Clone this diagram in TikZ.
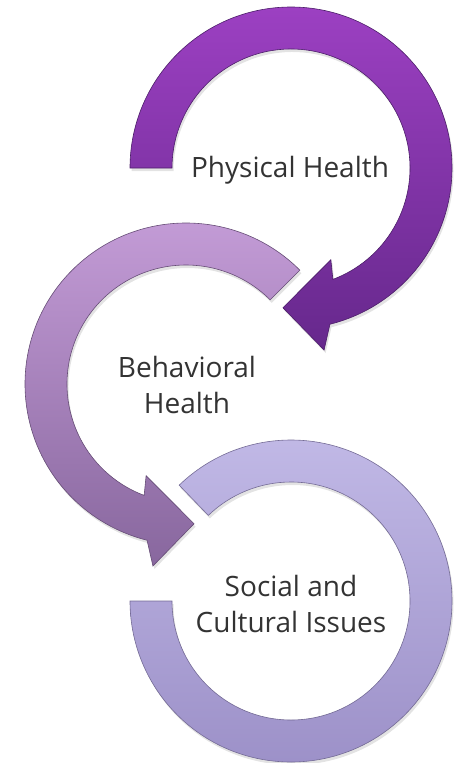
\documentclass[tikz,border=0pt]{standalone}
\usepackage{fontspec}
\setmainfont{Open Sans}
\usetikzlibrary{calc,shadows}
\definecolor{c1top}{HTML}{9C40C2}
\definecolor{c1bot}{HTML}{66288C}
\definecolor{c2top}{HTML}{C59DD8}
\definecolor{c2bot}{HTML}{88679E}
\definecolor{c3top}{HTML}{C2BAE7}
\definecolor{c3bot}{HTML}{9B8FC7}
\definecolor{txt}{HTML}{333333}
\tikzset{
  ringbase/.style={line width=0.6pt,
    drop shadow={opacity=0.22,shadow xshift=1.5pt,shadow yshift=-3pt}},
  ringA/.style={ringbase,top color=c1top,bottom color=c1bot,draw=c1bot!75!black},
  ringB/.style={ringbase,top color=c2top,bottom color=c2bot,draw=c2bot!75!black},
  ringC/.style={ringbase,top color=c3top,bottom color=c3bot,draw=c3bot!75!black},
  lbl/.style={text=txt,font=\fontsize{28}{36}\selectfont,align=center,inner sep=0pt}
}
\begin{document}
\begin{tikzpicture}[x=1pt,y=1pt]
\useasboundingbox (0,0) rectangle (464,-763);
\coordinate (C1) at (291,-168);
\coordinate (C2) at (186,-384);
\coordinate (C3) at (291,-601);

% Physical Health ring (clockwise, arrow at lower left)
\path[ringA] ($(C1)+(180:161)$) arc[start angle=180,end angle=-76,radius=161]
  -- ($(C1)+(-79.7:185)$) -- ($(C1)+(-93.3:140)$) -- ($(C1)+(-66.5:100)$)
  -- ($(C1)+(-69.4:119)$) arc[start angle=-69.4,end angle=180,radius=119] -- cycle;

% Behavioral Health ring (counter-clockwise, arrow at lower right)
\path[ringB] ($(C2)+(45:161)$) arc[start angle=45,end angle=256,radius=161]
  -- ($(C2)+(259.7:185)$) -- ($(C2)+(273.3:140)$) -- ($(C2)+(246.5:100)$)
  -- ($(C2)+(249.4:119)$) arc[start angle=249.4,end angle=45,radius=119] -- cycle;

% Social and Cultural Issues ring (no arrowhead)
\path[ringC] ($(C3)+(134:161)$) arc[start angle=134,end angle=-180,radius=161]
  -- ($(C3)+(-180:119)$) arc[start angle=-180,end angle=134,radius=119] -- cycle;

\node[lbl] (t1) at (290,-170) {Physical Health};
\node[lbl] (t2) at (187,-385) {Behavioral\\Health};
\node[lbl] (t3) at (291,-604) {Social and\\Cultural Issues};
\end{tikzpicture}
\end{document}
